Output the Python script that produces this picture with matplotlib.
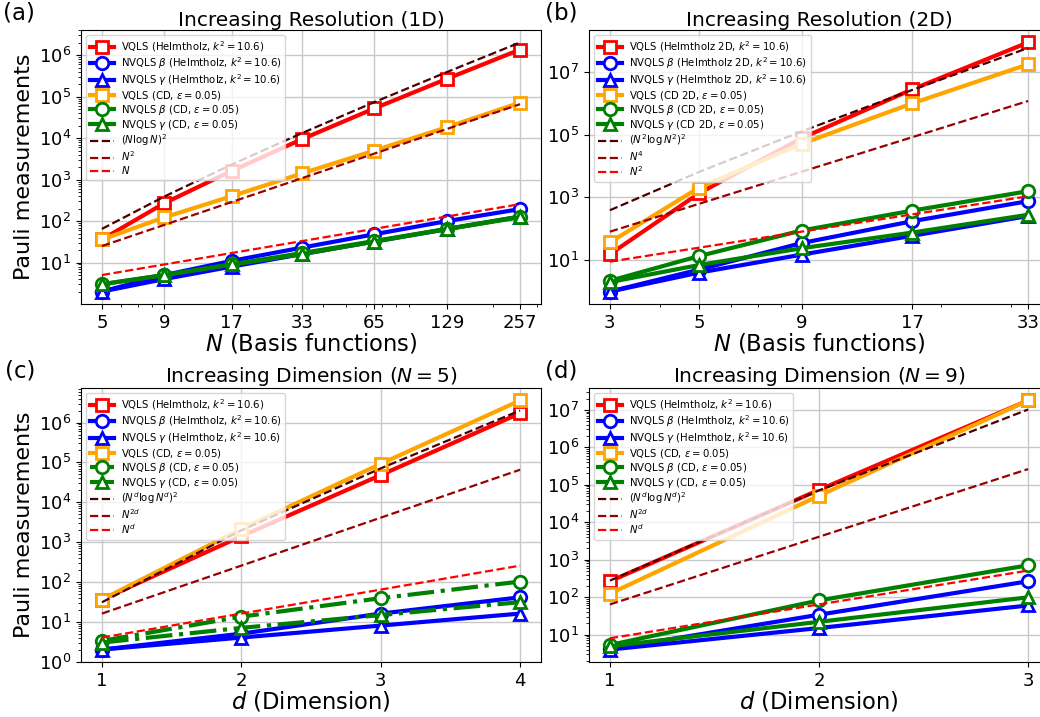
import numpy as np
import matplotlib.pyplot as plt
from matplotlib.ticker import NullFormatter, LogLocator

# ---- increasing resolution, 1D ----
n_1d = [5, 9, 17, 33, 65, 129, 257]
vqls_helm_1d = [36, 270, 1630, 9500, 52000, 270000, 1370000]
nvqls_beta_helm_1d = [2, 5, 11, 23, 48, 100, 195]
nvqls_gamma_helm_1d = [2, 4, 8, 16, 32, 64, 128]
vqls_cd_1d = [36, 123, 400, 1420, 5000, 18400, 72000]
nvqls_beta_cd_1d = [3, 5, 9, 17, 33, 65, 129]
nvqls_gamma_cd_1d = [3, 5, 9, 16, 32, 64, 124]
nlogn2_1d = [64.8, 391, 2320, 13313, 73621, 393029, 2033770]
n2_1d = [25, 81, 289, 1089, 4225, 16641, 66049]
n1_1d = [5, 9, 17, 33, 65, 129, 257]

# ---- increasing resolution, 2D ----
n_2d = [3, 5, 9, 17, 33]
vqls_helm_2d = [15.5, 1350, 77000, 2.8e6, 8.7e7]
nvqls_beta_helm_2d = [1, 5, 35, 175, 760]
nvqls_gamma_helm_2d = [1, 4, 15, 60, 255]
vqls_cd_2d = [37, 2050, 51000, 1.0e6, 1.75e7]
nvqls_beta_cd_2d = [2.2, 13.5, 88, 380, 1580]
nvqls_gamma_cd_2d = [2, 7, 24, 76, 280]
nlogn2_2d = [391, 6476, 126702, 2681700, 57994000]
n4_2d = [81, 625, 6561, 83521, 1185921]
n2_2d = [9, 25, 81, 289, 1089]
yticks_2d = [1e1, 1e3, 1e5, 1e7]

# ---- increasing dimension, N = 5 ----
d_n5 = [1, 2, 3, 4]
vqls_helm_n5 = [36, 1400, 48000, 1.72e6]
nvqls_beta_helm_n5 = [2, 5, 16, 41]
nvqls_gamma_helm_n5 = [2, 4, 8, 16]
vqls_cd_n5 = [36, 2140, 92000, 3.6e6]
nvqls_beta_cd_n5 = [3.3, 13.4, 39, 102]
nvqls_gamma_cd_n5 = [3, 7, 14.7, 31]
nlogn2_n5 = [30.75, 1968, 70846, 2015200]
n2d_n5 = [16, 256, 4096, 65536]
nd_n5 = [4, 16, 64, 256]

# ---- increasing dimension, N = 9 ----
d_n9 = [1, 2, 3]
vqls_helm_n9 = [265, 73000, 1.78e7]
nvqls_beta_helm_n9 = [4.1, 34, 265]
nvqls_gamma_helm_n9 = [4, 15, 60]
vqls_cd_n9 = [124, 51000, 1.78e7]
nvqls_beta_cd_n9 = [5.3, 82, 710]
nvqls_gamma_cd_n9 = [4.9, 22, 99]
nlogn2_n9 = [276.8, 70846, 1.0202e7]
n2d_n9 = [64, 4096, 262144]
nd_n9 = [8, 64, 512]

W, H = 1040, 717
fig = plt.figure(figsize=(W / 100, H / 100), dpi=100)


def add_ax(x0, y0, x1, y1):
    return fig.add_axes([x0 / W, 1 - y1 / H, (x1 - x0) / W, (y1 - y0) / H])


def draw(ax, x, data, refs, helm, cd, ref_labels, cd_ls='-'):
    styles = [('red', 's', '-', 'VQLS (%s)' % helm),
              ('blue', 'o', '-', r'NVQLS $\beta$ (%s)' % helm),
              ('blue', '^', '-', r'NVQLS $\gamma$ (%s)' % helm),
              ('orange', 's', '-', 'VQLS (%s)' % cd),
              ('green', 'o', cd_ls, r'NVQLS $\beta$ (%s)' % cd),
              ('green', '^', cd_ls, r'NVQLS $\gamma$ (%s)' % cd)]
    for y, (c, m, ls, lab) in zip(data, styles):
        ax.plot(x, y, color=c, marker=m, ls=ls, lw=3, ms=9, mew=2,
                mfc='white', label=lab)
    for y, c, lab in zip(refs, ['#4a0000', '#990000', 'red'], ref_labels):
        ax.plot(x, y, '--', color=c, lw=1.6, label=lab)
    ax.set_yscale('log')
    ax.yaxis.set_major_locator(LogLocator(base=10, numticks=12))
    ax.grid(True, color='#c8c8c8', lw=1)
    ax.set_axisbelow(True)
    ax.tick_params(labelsize=13)
    ax.legend(loc='upper left', fontsize=7.3, handlelength=2.4,
              labelspacing=0.1, handletextpad=0.6)


helm_k = r'Helmtholz, $k^2=10.6$'
cd_e = r'CD, $\varepsilon=0.05$'

ax_a = add_ax(81, 30, 541, 304)
draw(ax_a, n_1d,
     [vqls_helm_1d, nvqls_beta_helm_1d, nvqls_gamma_helm_1d,
      vqls_cd_1d, nvqls_beta_cd_1d, nvqls_gamma_cd_1d],
     [nlogn2_1d, n2_1d, n1_1d], helm_k, cd_e,
     [r'$(N\log N)^2$', r'$N^2$', r'$N$'])
ax_a.set_xscale('log')
ax_a.set_xticks(n_1d)
ax_a.set_xticklabels([str(v) for v in n_1d])
ax_a.xaxis.set_minor_formatter(NullFormatter())
ax_a.set_title('Increasing Resolution (1D)', fontsize=14.5, pad=3)
ax_a.set_xlabel(r'$N$ (Basis functions)', fontsize=16.3, labelpad=0)
ax_a.set_ylabel('Pauli measurements', fontsize=16, labelpad=3.5)

ax_b = add_ax(589, 30, 1049, 304)
draw(ax_b, n_2d,
     [vqls_helm_2d, nvqls_beta_helm_2d, nvqls_gamma_helm_2d,
      vqls_cd_2d, nvqls_beta_cd_2d, nvqls_gamma_cd_2d],
     [nlogn2_2d, n4_2d, n2_2d], r'Helmtholz 2D, $k^2=10.6$',
     r'CD 2D, $\varepsilon=0.05$',
     [r'$(N^2\log N^2)^2$', r'$N^4$', r'$N^2$'])
ax_b.set_xscale('log')
ax_b.set_xticks(n_2d)
ax_b.set_xticklabels([str(v) for v in n_2d])
ax_b.xaxis.set_minor_formatter(NullFormatter())
ax_b.set_yticks(yticks_2d)
ax_b.set_title('Increasing Resolution (2D)', fontsize=14.5, pad=3)
ax_b.set_xlabel(r'$N$ (Basis functions)', fontsize=16.3, labelpad=0)

ax_c = add_ax(81, 388, 541, 662)
draw(ax_c, d_n5,
     [vqls_helm_n5, nvqls_beta_helm_n5, nvqls_gamma_helm_n5,
      vqls_cd_n5, nvqls_beta_cd_n5, nvqls_gamma_cd_n5],
     [nlogn2_n5, n2d_n5, nd_n5], helm_k, cd_e,
     [r'$(N^d\log N^d)^2$', r'$N^{2d}$', r'$N^d$'], cd_ls='-.')
ax_c.set_xticks(d_n5)
ax_c.set_title(r'Increasing Dimension ($N=5$)', fontsize=14.5, pad=3)
ax_c.set_xlabel(r'$d$ (Dimension)', fontsize=16.3, labelpad=0)
ax_c.set_ylabel('Pauli measurements', fontsize=16, labelpad=3.5)

ax_d = add_ax(589, 388, 1049, 662)
draw(ax_d, d_n9,
     [vqls_helm_n9, nvqls_beta_helm_n9, nvqls_gamma_helm_n9,
      vqls_cd_n9, nvqls_beta_cd_n9, nvqls_gamma_cd_n9],
     [nlogn2_n9, n2d_n9, nd_n9], helm_k, cd_e,
     [r'$(N^d\log N^d)^2$', r'$N^{2d}$', r'$N^d$'])
ax_d.set_xticks(d_n9)
ax_d.set_title(r'Increasing Dimension ($N=9$)', fontsize=14.5, pad=3)
ax_d.set_xlabel(r'$d$ (Dimension)', fontsize=16.3, labelpad=0)

for lab, (px, py) in zip(['(a)', '(b)', '(c)', '(d)'],
                         [(3, 13), (545, 13), (5, 371), (545, 371)]):
    fig.text(px / W, 1 - py / H, lab, fontsize=16.5, va='center', ha='left')

fig.savefig('out.png', dpi=100)
